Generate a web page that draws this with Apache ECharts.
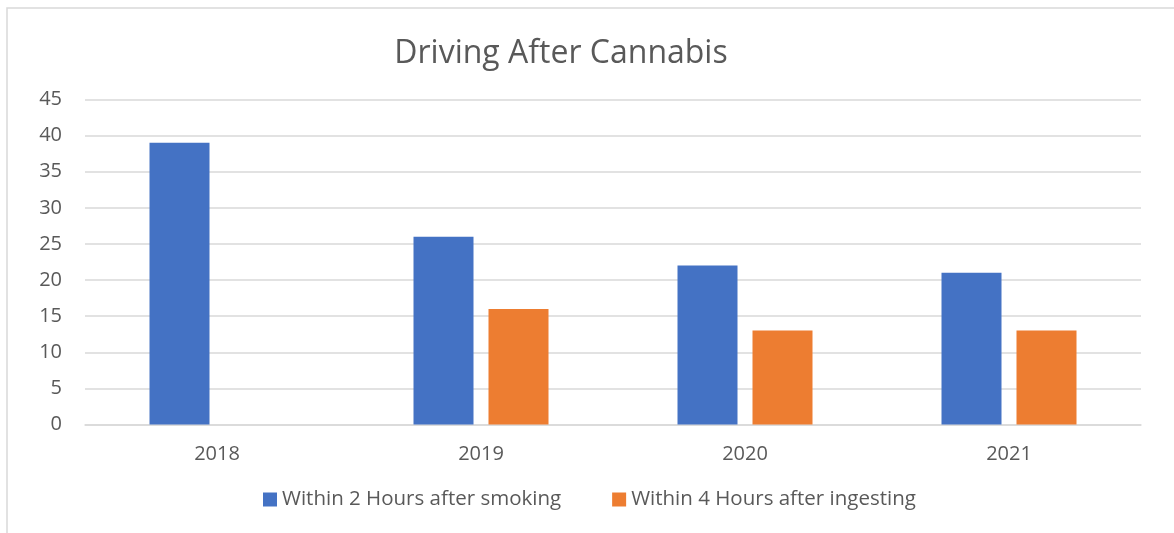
<!DOCTYPE html>
<html>
<head>
<meta charset="utf-8">
<script src="https://cdn.jsdelivr.net/npm/echarts@6/dist/echarts.min.js"></script>
<style>
  html, body { margin: 0; padding: 0; background: #fff; }
  #main { width: 1174px; height: 533px; }
</style>
</head>
<body>
<div id="main"></div>
<script>
"use strict";
var years = ['2018', '2019', '2020', '2021'];
var smoking = [39, 26, 22, 21];
var ingesting = [null, 16, 13, 13];
var seriesNames = ['Within 2 Hours after smoking', 'Within 4 Hours after ingesting'];

var myChart = echarts.init(document.getElementById('main'));
var font = '"Open Sans", sans-serif';

myChart.setOption({
    animation: false,
    textStyle: { fontFamily: font },
    graphic: [{
        type: 'rect',
        shape: { x: 7, y: 8, width: 1200, height: 600 },
        style: { fill: 'none', stroke: '#d9d9d9', lineWidth: 1.5 },
        silent: true
    }],
    title: {
        text: 'Driving After Cannabis',
        left: 556,
        textAlign: 'center',
        top: 33,
        textStyle: { fontFamily: font, fontSize: 32, fontWeight: 'normal', color: '#595959' }
    },
    legend: {
        data: seriesNames,
        bottom: 18,
        left: 258,
        itemWidth: 14,
        itemHeight: 14,
        itemGap: 51,
        icon: 'rect',
        textStyle: { fontFamily: font, fontSize: 20.5, color: '#595959' }
    },
    grid: { left: 85, right: 33, top: 99.5, bottom: 108.5, containLabel: false },
    xAxis: {
        type: 'category',
        data: years,
        axisLine: { lineStyle: { color: '#d9d9d9', width: 1.5 } },
        axisTick: { show: false },
        axisLabel: { fontFamily: font, fontSize: 20, color: '#595959', margin: 20 }
    },
    yAxis: {
        type: 'value',
        min: 0,
        max: 45,
        interval: 5,
        axisLine: { show: false },
        axisTick: { show: false },
        splitLine: { lineStyle: { color: '#d9d9d9', width: 1.5 } },
        axisLabel: { fontFamily: font, fontSize: 20, color: '#595959', margin: 23 }
    },
    series: [{
        name: seriesNames[0],
        type: 'bar',
        data: smoking,
        barWidth: 60,
        barGap: '25%',
        itemStyle: { color: '#4472C4' }
    }, {
        name: seriesNames[1],
        type: 'bar',
        data: ingesting,
        barWidth: 60,
        barGap: '25%',
        itemStyle: { color: '#ED7D31' }
    }]
});
</script>
</body>
</html>
